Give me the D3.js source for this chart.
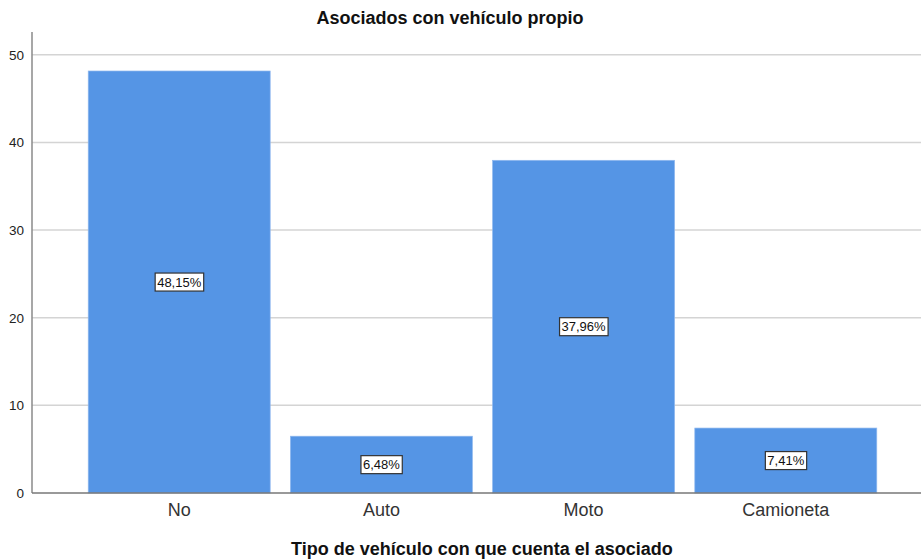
<!DOCTYPE html>
<html>
<head>
<meta charset="utf-8">
<script src="https://cdn.jsdelivr.net/npm/d3@7"></script>
<style>
  body { margin: 0; background: #fff; }
  text { font-family: Arial, "Liberation Sans", sans-serif; }
</style>
</head>
<body>
<svg id="chart" width="921" height="560"></svg>
<script>
// data
var categories = ["No", "Auto", "Moto", "Camioneta"];
var percents = [48.15, 6.48, 37.96, 7.41];
var y_ticks = [0, 10, 20, 30, 40, 50];

var svg = d3.select("#chart");

var x = d3.scaleBand()
          .domain(categories)
          .range([68, 897])
          .padding(0.1);

var y = d3.scaleLinear()
          .domain([0, 52.6])
          .range([493, 32]);

// gridlines
svg.selectAll("line.grid")
   .data(y_ticks.filter(d => d > 0))
   .enter()
   .append("line")
   .attr("class", "grid")
   .attr("x1", 32)
   .attr("x2", 921)
   .attr("y1", d => y(d))
   .attr("y2", d => y(d))
   .attr("stroke", "#d4d4d4")
   .attr("stroke-width", 1.5);

// bars
svg.selectAll("rect.bar")
   .data(categories)
   .enter()
   .append("rect")
   .attr("class", "bar")
   .attr("x", d => x(d))
   .attr("width", x.bandwidth())
   .attr("y", (d, i) => y(percents[i]))
   .attr("height", (d, i) => y(0) - y(percents[i]))
   .attr("fill", "#5595e5")
   .attr("stroke", "#8fb8ee")
   .attr("stroke-width", 0.7);

// y axis
var yAxis = svg.append("g")
   .attr("transform", "translate(32,0)")
   .call(d3.axisLeft(y).tickValues(y_ticks).tickSize(0).tickPadding(8));
yAxis.select(".domain").remove();
yAxis.selectAll("text")
     .attr("font-size", 13.5)
     .attr("fill", "#222")
     .style("font-family", "Arial, 'Liberation Sans', sans-serif");

svg.append("line")
   .attr("x1", 32).attr("x2", 32)
   .attr("y1", 32).attr("y2", y(0))
   .attr("stroke", "#8a8a8a")
   .attr("stroke-width", 1.5);

// x axis
var xAxis = svg.append("g")
   .attr("transform", "translate(0," + y(0) + ")")
   .call(d3.axisBottom(x).tickSize(0).tickPadding(10));
xAxis.select(".domain").remove();
xAxis.selectAll("text")
     .attr("font-size", 18)
     .attr("fill", "#333")
     .style("font-family", "Arial, 'Liberation Sans', sans-serif");

svg.append("line")
   .attr("x1", 32).attr("x2", 921)
   .attr("y1", y(0)).attr("y2", y(0))
   .attr("stroke", "#777")
   .attr("stroke-width", 1.5);

// bar value labels in boxes
var labels = svg.selectAll("g.bar-value")
   .data(categories)
   .enter()
   .append("g")
   .attr("class", "bar-value")
   .attr("transform", (d, i) => "translate(" + (x(d) + x.bandwidth()/2) + "," + y(percents[i]/2) + ")");

labels.append("text")
      .attr("text-anchor", "middle")
      .attr("dy", "0.35em")
      .attr("font-size", 13)
      .attr("fill", "#111")
      .text((d, i) => percents[i].toFixed(2).replace(".", ",") + "%");

labels.each(function() {
    var g = d3.select(this);
    var bb = g.select("text").node().getBBox();
    g.insert("rect", "text")
     .attr("x", bb.x - 2)
     .attr("y", bb.y - 1.5)
     .attr("width", bb.width + 4)
     .attr("height", bb.height + 3)
     .attr("fill", "#fff")
     .attr("stroke", "#333")
     .attr("stroke-width", 1.2);
});

// titles
svg.append("text")
   .attr("x", 450)
   .attr("y", 24)
   .attr("text-anchor", "middle")
   .attr("font-size", 18)
   .attr("font-weight", "bold")
   .attr("fill", "#111")
   .text("Asociados con vehículo propio");

svg.append("text")
   .attr("x", 482)
   .attr("y", 555)
   .attr("text-anchor", "middle")
   .attr("font-size", 18)
   .attr("font-weight", "bold")
   .attr("fill", "#111")
   .text("Tipo de vehículo con que cuenta el asociado");
</script>
</body>
</html>
